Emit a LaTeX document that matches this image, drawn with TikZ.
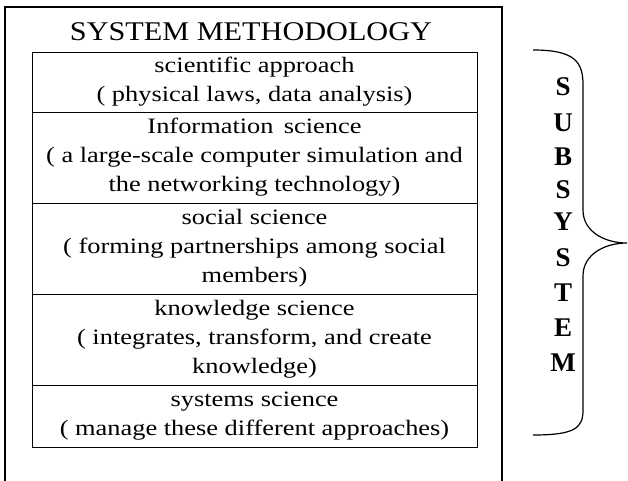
\documentclass[tikz,border=0pt]{standalone}
\usepackage{fontspec}
\setmainfont{Liberation Serif}
\newfontfamily\bodyfont[FakeStretch=1.2]{Liberation Serif}
\newfontfamily\titlefont[FakeStretch=1.12]{Liberation Serif}
\begin{document}
\begin{tikzpicture}[x=1pt,y=-1pt,
  rowbox/.style={draw, line width=1pt, inner sep=0pt, minimum width=445pt, align=center,
    font=\bodyfont\fontsize{22}{29}\selectfont},
  letter/.style={font=\fontsize{27}{27}\bfseries\selectfont, inner sep=0pt}]
\useasboundingbox (0,0) rectangle (628,480);
\draw[line width=1.5pt] (5,481) -- (5,7) -- (502,7) -- (502,481);
\node[font=\titlefont\fontsize{27}{27}\selectfont, inner sep=0pt] (title) at (251,32) {SYSTEM METHODOLOGY};
\node[rowbox, minimum height=60pt] (r1) at (254.5,82) {scientific approach\\( physical laws, data analysis)};
\node[rowbox, minimum height=91pt] (r2) at (254.5,157.5) {Information\, science\\( a large-scale computer simulation and\\the networking technology)};
\node[rowbox, minimum height=91pt] (r3) at (254.5,248.5) {social science\\( forming partnerships among social\\members)};
\node[rowbox, minimum height=91pt] (r4) at (254.5,339.5) {knowledge science\\( integrates, transform, and create\\knowledge)};
\node[rowbox, minimum height=62pt] (r5) at (254.5,416) {systems science\\( manage these different approaches)};
\foreach \l/\y [count=\i] in {S/87,U/123,B/157,S/190,Y/222,S/258,T/293,E/328,M/363}
  \node[letter] (l\i) at (563,\y) {\l};
\draw[line width=1.2pt] (533,50) .. controls (575,50) and (583,62) .. (583,85)
  -- (583,210) .. controls (583,232) and (605,243) .. (627,243)
  .. controls (605,243) and (583,254) .. (583,276)
  -- (583,410) .. controls (583,428) and (575,435) .. (533,435);
\end{tikzpicture}
\end{document}
